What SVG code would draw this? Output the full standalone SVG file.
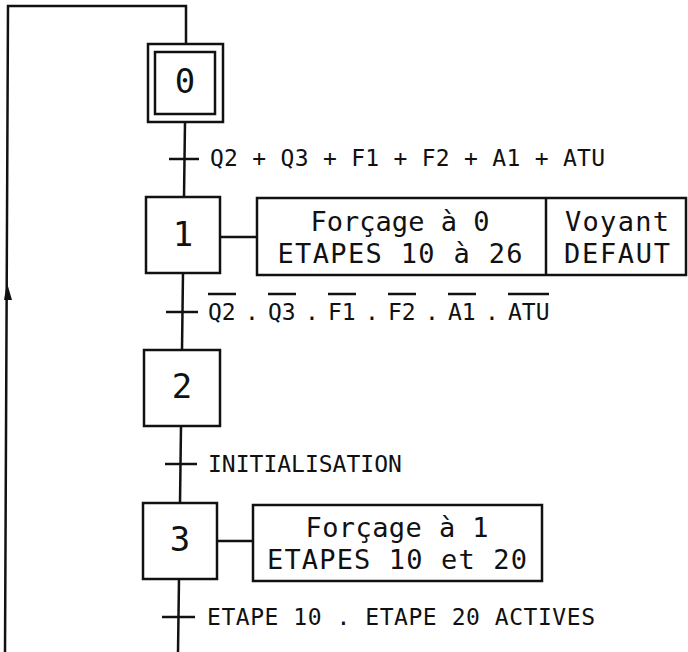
<svg xmlns="http://www.w3.org/2000/svg" width="688" height="652" viewBox="0 0 688 652">
<style>
.ln{stroke:#111;stroke-width:2.5;fill:none}
.t{font-family:"DejaVu Sans Mono","Liberation Mono",monospace;fill:#111}
.num{font-size:34px;text-anchor:middle}
.tr{font-size:23px}
.act{font-size:27px;text-anchor:middle}
</style>
<rect width="688" height="652" fill="#fff"/>
<g id="connectors">
<path class="ln" d="M5,652 L8,6 L186,6 L186,44"/>
<polygon points="7,283 4,300 12,300" fill="#111"/>
<path class="ln" d="M185,122 L184,197"/>
<path class="ln" d="M169,159 L199,159"/>
<path class="ln" d="M183,273 L182,350"/>
<path class="ln" d="M166,312 L198,312"/>
<path class="ln" d="M181,426 L180,503"/>
<path class="ln" d="M165,464 L197,464"/>
<path class="ln" d="M179,579 L178,652"/>
<path class="ln" d="M162,617 L195,617"/>
<path class="ln" d="M220,237 L257,237"/>
<path class="ln" d="M217,541 L253,541"/>
</g>
<g id="step0">
<rect class="ln" x="148" y="44" width="75" height="78"/>
<rect class="ln" x="155" y="52" width="60" height="62"/>
<text class="t num" x="185" y="93">0</text>
</g>
<g id="t0">
<text class="t tr" x="210" y="166" textLength="395">Q2 + Q3 + F1 + F2 + A1 + ATU</text>
</g>
<g id="step1">
<rect class="ln" x="146" y="197" width="74" height="76"/>
<text class="t num" x="183" y="246">1</text>
</g>
<g id="action1">
<rect class="ln" x="257" y="198" width="429" height="77"/>
<path class="ln" d="M546,198 L546,275"/>
<text class="t act" x="400" y="231">Forçage à 0</text>
<text class="t act" x="400" y="263" textLength="245">ETAPES 10 à 26</text>
<text class="t act" x="617" y="231" textLength="104">Voyant</text>
<text class="t act" x="617" y="263" textLength="106">DEFAUT</text>
</g>
<g id="t1">
<text class="t tr" x="208" y="320">Q2</text>
<text class="t tr" x="252" y="320" text-anchor="middle">.</text>
<text class="t tr" x="268" y="320">Q3</text>
<text class="t tr" x="312" y="320" text-anchor="middle">.</text>
<text class="t tr" x="328" y="320">F1</text>
<text class="t tr" x="372" y="320" text-anchor="middle">.</text>
<text class="t tr" x="388" y="320">F2</text>
<text class="t tr" x="432" y="320" text-anchor="middle">.</text>
<text class="t tr" x="448" y="320">A1</text>
<text class="t tr" x="492" y="320" text-anchor="middle">.</text>
<text class="t tr" x="508" y="320">ATU</text>
<path class="ln" stroke-width="2" d="M208,294 H236 M268,294 H296 M328,294 H356 M388,294 H416 M448,294 H476 M508,294 H549"/>
</g>
<g id="step2">
<rect class="ln" x="144" y="350" width="76" height="76"/>
<text class="t num" x="182" y="398">2</text>
</g>
<g id="t2">
<text class="t tr" x="208" y="472">INITIALISATION</text>
</g>
<g id="step3">
<rect class="ln" x="143" y="503" width="74" height="76"/>
<text class="t num" x="180" y="551">3</text>
</g>
<g id="action3">
<rect class="ln" x="253" y="505" width="289" height="76"/>
<text class="t act" x="397" y="537" textLength="183">Forçage à 1</text>
<text class="t act" x="397" y="569" textLength="260">ETAPES 10 et 20</text>
</g>
<g id="t3">
<text class="t tr" x="207" y="625" textLength="388">ETAPE 10 . ETAPE 20 ACTIVES</text>
</g>
</svg>
